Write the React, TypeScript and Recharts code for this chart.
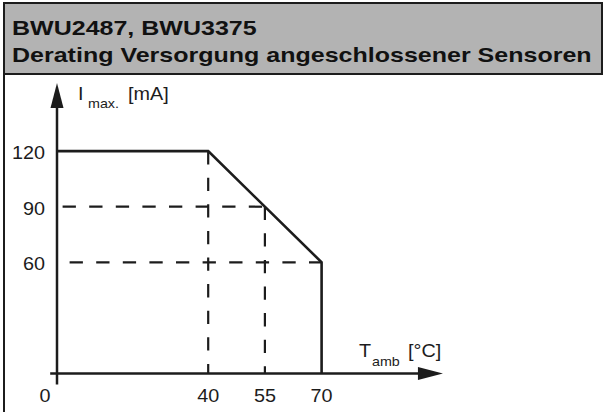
import { LineChart, Line, XAxis, YAxis, ReferenceLine } from "recharts";

// tick labels
const tempTicks = [0, 40, 55, 70];
const currentTicks = [60, 90, 120];

// derating curve (T_amb in °C, I_max in mA)
const curveTemp = [0, 40, 70, 70];
const curveCurrent = [120, 120, 60, 0];

// dashed helper lines
const guide90Temp = [0, 55];
const guide90Current = [90, 90];
const guide60Temp = [0, 70];
const guide60Current = [60, 60];
const guide40Temp = [40, 40];
const guide40Current = [120, 0];
const guide55Temp = [55, 55];
const guide55Current = [90, 0];

const pts = (t: number[], i: number[]) => t.map((v, k) => ({ t: v, i: i[k] }));

const FONT = "'Liberation Sans', Arial, Helvetica, sans-serif";
const INK = "#1c1c1c";
const DASH = "13.3 13.3";
const SX = 1.1; // the source lettering is a bit wide
const HEAD_SX = 1.22;

function Txt({ x, y, size, anchor = "start", children }: any) {
  return (
    <text
      transform={`translate(${x},${y}) scale(${SX},1)`}
      fontSize={size}
      textAnchor={anchor}
      fill={INK}
      fontFamily={FONT}
    >
      {children}
    </text>
  );
}

function XTick({ x, y, payload }: any) {
  const shift = payload.value === 0 ? -12 : 0;
  return (
    <Txt x={x + shift} y={y + 28} size={18} anchor="middle">
      {payload.value}
    </Txt>
  );
}

function YTick({ y, payload }: any) {
  return (
    <Txt x={45} y={y + 8} size={18} anchor="end">
      {payload.value}
    </Txt>
  );
}

function Arrow(props: any) {
  const { x1, y1, x2, y2 } = props;
  const dx = x2 - x1;
  const dy = y2 - y1;
  const len = Math.hypot(dx, dy) || 1;
  const ux = dx / len;
  const uy = dy / len;
  const head = 25;
  const half = 6.5;
  const bx = x2 - ux * head;
  const by = y2 - uy * head;
  return (
    <g>
      <line x1={x1} y1={y1} x2={bx + ux * 2} y2={by + uy * 2} stroke={INK} strokeWidth={2.5} />
      <polygon
        points={`${x2},${y2} ${bx - uy * half},${by + ux * half} ${bx + uy * half},${by - ux * half}`}
        fill={INK}
      />
    </g>
  );
}

const headLine = {
  position: "absolute" as const,
  left: 7,
  whiteSpace: "nowrap" as const,
  transform: `scaleX(${HEAD_SX})`,
  transformOrigin: "0 0",
};

export default function App() {
  return (
    <div
      style={{
        position: "fixed",
        left: 0,
        top: 0,
        width: 603,
        height: 412,
        background: "#fff",
        fontFamily: FONT,
        overflow: "hidden",
      }}
    >
      <div style={{ position: "absolute", left: 0, top: 0 }}>
        <LineChart width={603} height={412} margin={{ top: 95.5, right: 168, bottom: 8.5, left: 0 }}>
          <XAxis
            type="number"
            dataKey="t"
            domain={[0, 100]}
            ticks={tempTicks}
            interval={0}
            axisLine={false}
            tickLine={false}
            tickSize={0}
            tickMargin={0}
            height={30}
            tick={<XTick />}
          />
          <YAxis
            type="number"
            dataKey="i"
            domain={[0, 150]}
            ticks={currentTicks}
            interval={0}
            axisLine={false}
            tickLine={false}
            tickSize={0}
            tickMargin={0}
            width={57}
            tick={<YTick />}
          />
          <Line data={pts(guide90Temp, guide90Current)} dataKey="i" type="linear" stroke={INK}
            strokeWidth={2.2} strokeDasharray={DASH} strokeDashoffset={21} dot={false} activeDot={false} isAnimationActive={false} />
          <Line data={pts(guide60Temp, guide60Current)} dataKey="i" type="linear" stroke={INK}
            strokeWidth={2.2} strokeDasharray={DASH} strokeDashoffset={14} dot={false} activeDot={false} isAnimationActive={false} />
          <Line data={pts(guide40Temp, guide40Current)} dataKey="i" type="linear" stroke={INK}
            strokeWidth={2.2} strokeDasharray={DASH} dot={false} activeDot={false} isAnimationActive={false} />
          <Line data={pts(guide55Temp, guide55Current)} dataKey="i" type="linear" stroke={INK}
            strokeWidth={2.2} strokeDasharray={DASH} dot={false} activeDot={false} isAnimationActive={false} />
          <Line data={pts(curveTemp, curveCurrent)} dataKey="i" type="linear" stroke={INK}
            strokeWidth={2.6} dot={false} activeDot={false} isAnimationActive={false} />
          <ReferenceLine
            segment={[{ x: 0, y: -6 }, { x: 0, y: 156.8 }]}
            ifOverflow="visible"
            shape={Arrow}
          />
          <ReferenceLine
            segment={[{ x: -1.8, y: 0 }, { x: 102.1, y: 0 }]}
            ifOverflow="visible"
            shape={Arrow}
          />
        </LineChart>
      </div>

      {/* axis titles */}
      <svg width={603} height={412} style={{ position: "absolute", left: 0, top: 0, pointerEvents: "none" }}>
        <Txt x={78} y={100} size={18}>I</Txt>
        <Txt x={88} y={108} size={13}>max.</Txt>
        <Txt x={128} y={100} size={18}>[mA]</Txt>
        <Txt x={359} y={357} size={18}>T</Txt>
        <Txt x={372} y={366} size={13}>amb</Txt>
        <Txt x={408} y={357} size={18}>[°C]</Txt>
      </svg>

      {/* frame: left border below header */}
      <div style={{ position: "absolute", left: 3, top: 74, width: 2, height: 338, background: INK }} />

      {/* header band */}
      <div
        style={{
          position: "absolute",
          left: 3,
          top: 2,
          width: 596,
          height: 69,
          background: "#b3b3b3",
          border: `2px solid ${INK}`,
          color: "#111",
          fontWeight: "bold",
          fontSize: 20.5,
          lineHeight: "19px",
        }}
      >
        <div style={{ ...headLine, top: 13.5 }}>BWU2487, BWU3375</div>
        <div style={{ ...headLine, top: 41 }}>Derating Versorgung angeschlossener Sensoren</div>
      </div>
    </div>
  );
}
